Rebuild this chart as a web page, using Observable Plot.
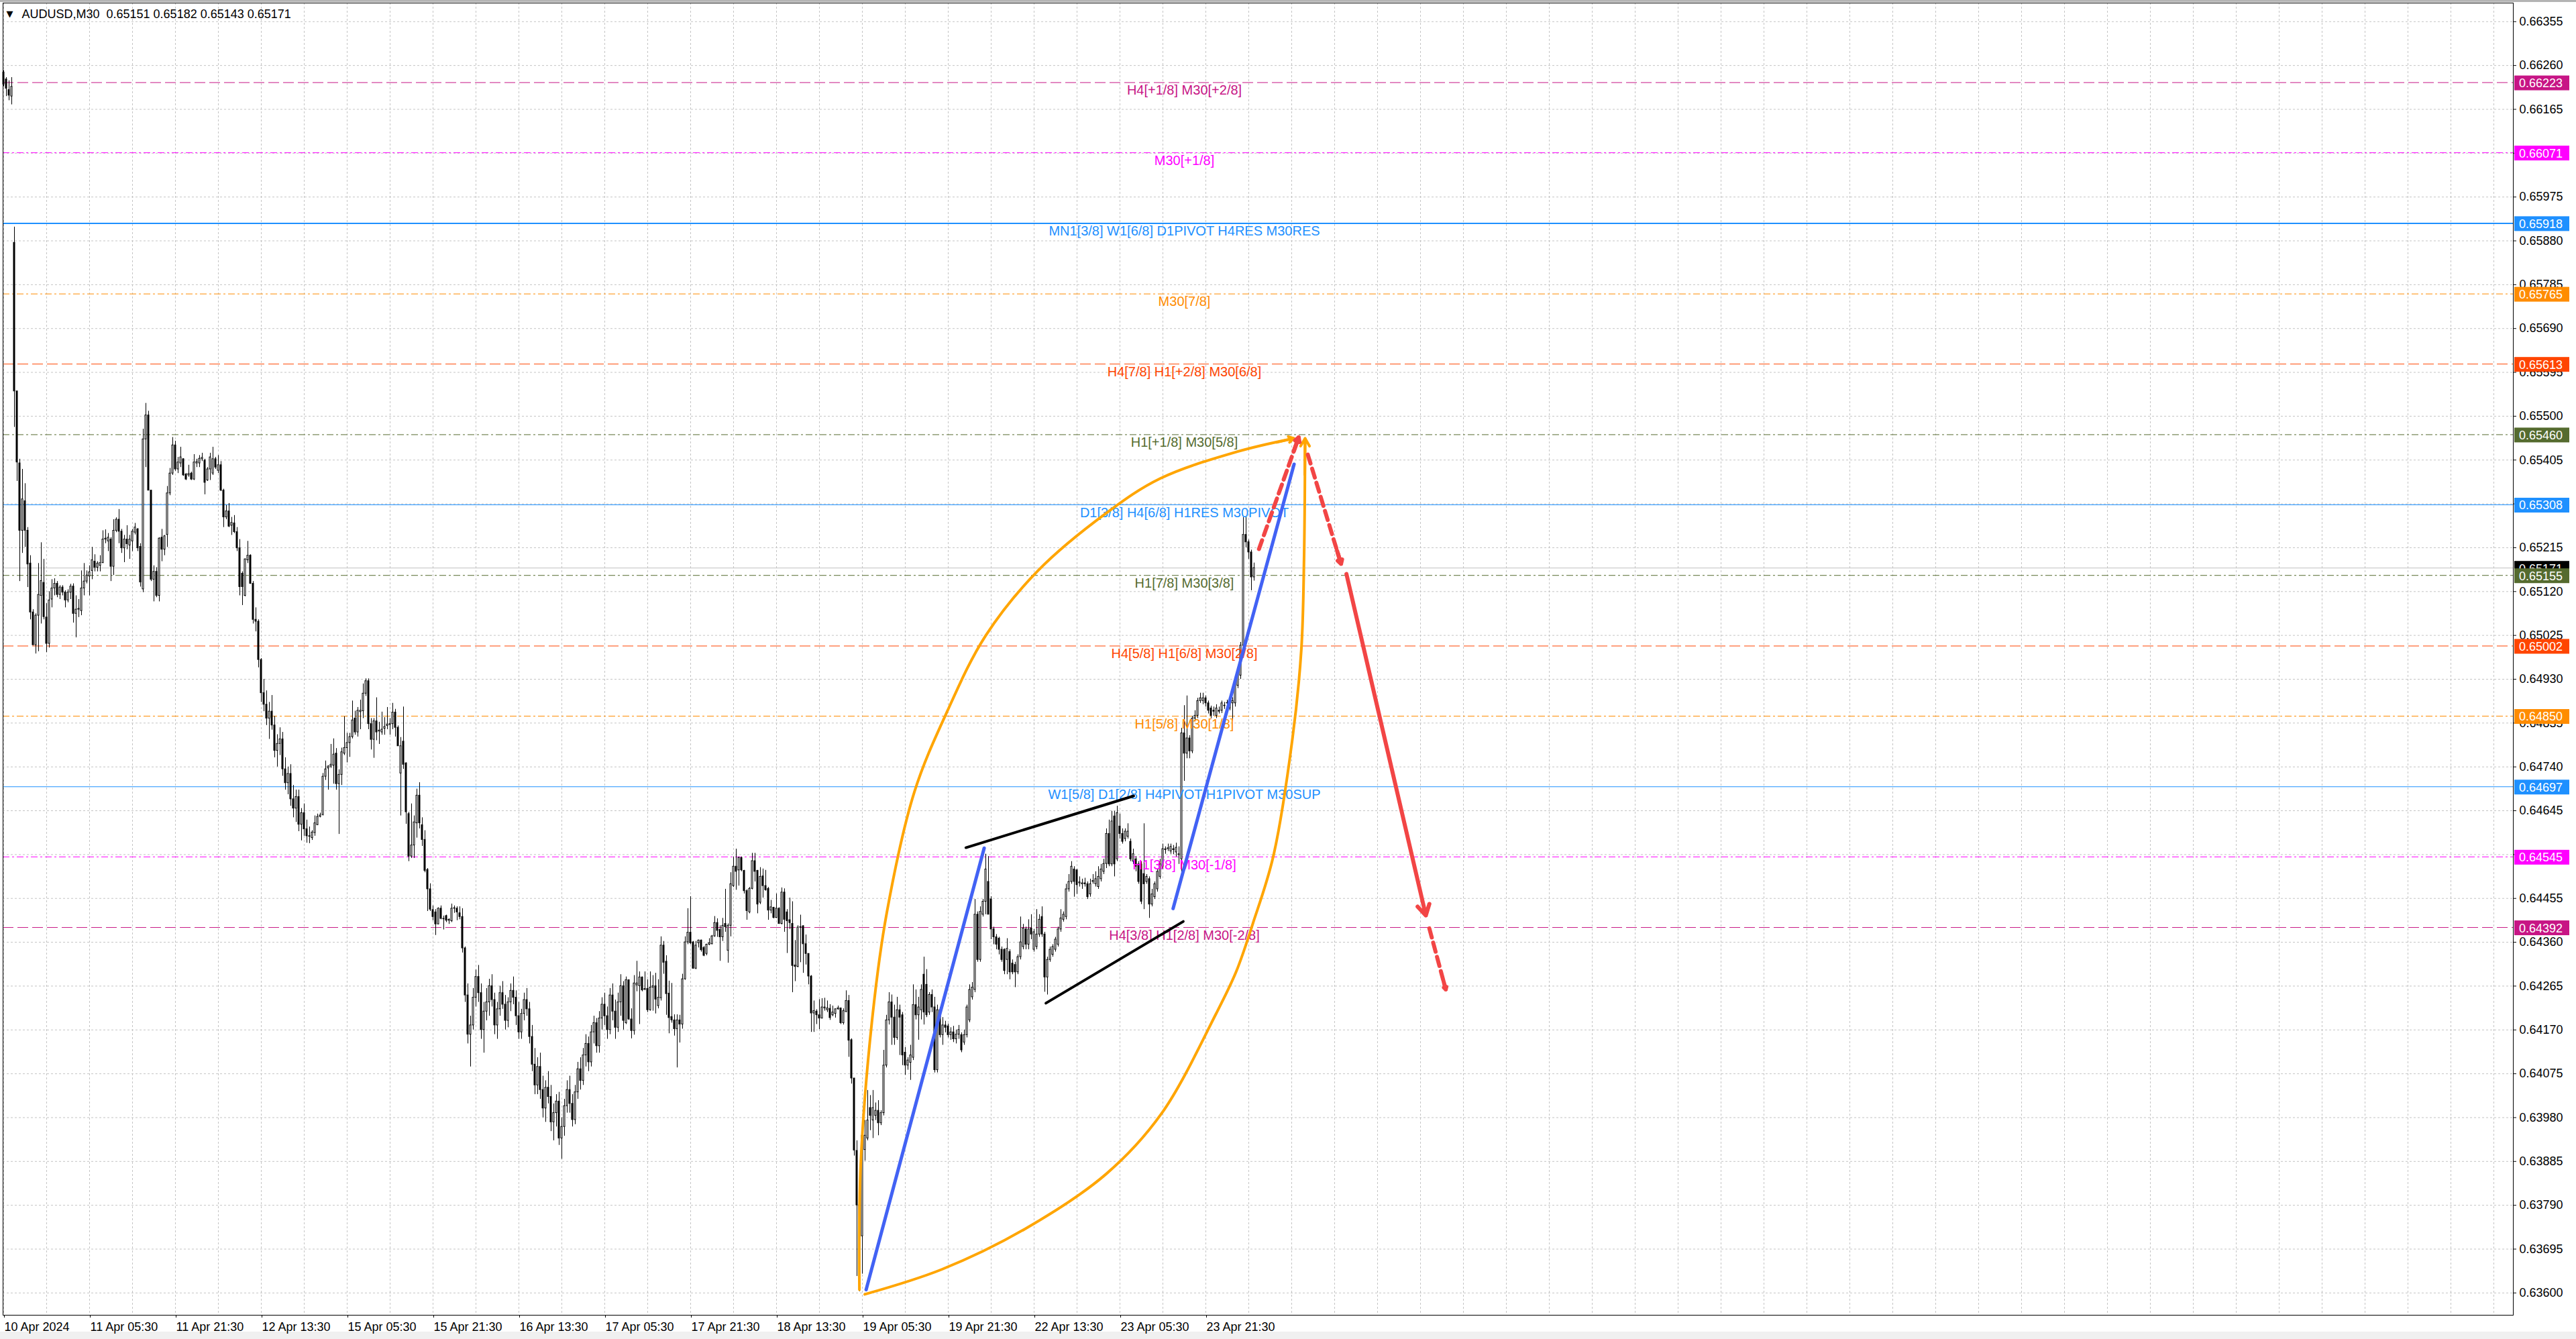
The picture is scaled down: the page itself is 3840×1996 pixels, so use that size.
<!DOCTYPE html>
<html><head><meta charset="utf-8">
<script src="https://cdn.jsdelivr.net/npm/d3@7"></script>
<script src="https://cdn.jsdelivr.net/npm/@observablehq/plot@0.6"></script>
<style>
html,body{margin:0;padding:0;background:#fff;}
#chart svg{display:block;}
</style></head><body><div id="chart"></div>
<script>
// ---- DATA (prices in points, 1 point = 0.00001) ----
const symbolName = "AUDUSD,M30";
const openPts = [
66245,66230,66207,66193,65876,65554,65398,65252,65316,65252,
65181,65075,65004,65068,65111,65139,65064,65007,65103,65127,
65137,65113,65129,65118,65101,65118,65131,65072,65081,65078,
65127,65142,65153,65165,65185,65172,65176,65182,65233,65229,
65233,65174,65252,65276,65250,65214,65233,65220,65229,65248,
65255,65217,65125,65450,65502,65339,65146,65163,65111,65237,
65211,65243,65333,65376,65437,65385,65398,65407,65374,65372,
65376,65363,65398,65398,65407,65404,65361,65385,65376,65407,
65382,65394,65339,65281,65294,65263,65268,65249,65214,65159,
65111,65188,65198,65137,65059,65055,64972,64900,64875,64845,
64860,64830,64775,64790,64800,64735,64705,64725,64670,64650,
64675,64615,64640,64605,64590,64586,64597,64614,64632,64636,
64719,64737,64741,64743,64769,64703,64723,64769,64781,64792,
64805,64845,64815,64859,64861,64899,64926,64833,64799,64839,
64817,64815,64823,64829,64831,64833,64858,64825,64726,64795,
64748,64638,64546,64570,64618,64678,64614,64582,64517,64475,
64430,64425,64399,64433,64411,64417,64407,64406,64433,64433,
64423,64415,64347,64245,64160,64180,64240,64285,64250,64170,
64210,64230,64265,64235,64180,64215,64250,64225,64190,64230,
64255,64240,64200,64165,64205,64235,64215,64155,64095,64050,
64090,64040,64000,64045,64025,63970,63990,64015,63935,63960,
64005,64040,64010,63975,64035,64085,64060,64115,64140,64100,
64165,64185,64135,64195,64225,64200,64170,64245,64210,64175,
64230,64265,64185,64278,64193,64168,64267,64265,64284,64257,
64259,64213,64262,64265,64222,64239,64353,64318,64249,64198,
64191,64172,64191,64182,64280,64360,64381,64360,64303,64358,
64364,64348,64335,64355,64356,64373,64402,64387,64371,64400,
64342,64396,64482,64524,64516,64543,64515,64471,64425,64476,
64536,64515,64446,64503,64482,64476,64429,64435,64413,64433,
64400,64468,64425,64408,64400,64310,64307,64392,64395,64356,
64335,64286,64206,64210,64202,64195,64217,64213,64216,64202,
64205,64215,64217,64185,64209,64233,64148,64065,63908,63790,
63723,63910,63935,64001,63974,63984,63995,63968,63990,64093,
64191,64230,64197,64153,64213,64202,64121,64093,64099,64110,
64224,64202,64213,64290,64268,64208,64246,64219,64083,64213,
64159,64180,64178,64159,64165,64150,64160,64159,64143,64159,
64191,64241,64257,64420,64322,64420,64448,64491,64453,64388,
64371,64368,64344,64344,64322,64339,64314,64311,64295,64328,
64350,64388,64355,64390,64344,64350,64377,64415,64377,64284,
64322,64333,64344,64355,64388,64409,64415,64475,64491,64518,
64516,64488,64486,64488,64486,64464,64491,64486,64480,64497,
64513,64530,64595,64529,64633,64540,64611,64595,64584,64589,
64578,64535,64540,64529,64529,64508,64491,64497,64442,64458,
64475,64502,64524,64560,64562,64557,64562,64555,64549,64540,
64813,64769,64802,64774,64845,64851,64883,64883,64889,64878,
64867,64862,64851,64862,64862,64872,64878,64867,64878,64878,
64916,64938,65003,65243,65227,65205,65151];
const highPts = [
66249,66234,66227,66234,65910,65554,65407,65385,65354,65259,
65198,65081,65072,65181,65226,65190,65094,65120,65146,65148,
65142,65133,65133,65122,65124,65136,65137,65111,65103,65165,
65181,65165,65176,65216,65200,65185,65198,65252,65254,65246,
65237,65276,65280,65298,65255,65242,65263,65242,65255,65268,
65257,65224,65472,65528,65511,65339,65176,65172,65237,65255,
65242,65348,65387,65454,65446,65411,65433,65408,65376,65394,
65379,65417,65407,65415,65420,65407,65389,65420,65433,65411,
65415,65402,65342,65307,65311,65281,65285,65259,65233,65163,
65191,65229,65200,65142,65085,65059,64975,64930,64905,64880,
64895,64850,64810,64825,64815,64760,64740,64745,64700,64690,
64690,64650,64660,64625,64610,64602,64634,64638,64640,64726,
64753,64743,64789,64801,64780,64734,64781,64849,64813,64813,
64883,64861,64869,64885,64920,64931,64931,64845,64845,64890,
64837,64859,64847,64869,64845,64878,64865,64829,64804,64870,
64749,64642,64660,64634,64692,64706,64630,64602,64520,64487,
64439,64431,64435,64439,64417,64419,64411,64443,64439,64437,
64437,64433,64350,64270,64200,64260,64300,64310,64270,64230,
64260,64280,64290,64250,64230,64265,64275,64245,64240,64270,
64285,64255,64230,64215,64250,64260,64230,64180,64130,64110,
64120,64070,64060,64080,64050,64010,64030,64035,63980,64020,
64060,64070,64030,64050,64100,64110,64130,64160,64155,64180,
64200,64195,64210,64240,64250,64220,64260,64270,64235,64250,
64290,64275,64285,64278,64216,64288,64319,64296,64285,64296,
64279,64296,64288,64293,64279,64372,64362,64331,64276,64271,
64203,64203,64202,64291,64372,64433,64459,64362,64362,64365,
64365,64351,64356,64368,64375,64416,64411,64396,64412,64475,
64400,64511,64545,64562,64545,64545,64516,64474,64479,64553,
64553,64516,64522,64519,64516,64479,64451,64436,64465,64435,
64478,64476,64431,64456,64448,64364,64396,64419,64396,64376,
64335,64288,64233,64214,64236,64238,64239,64233,64225,64222,
64216,64222,64217,64216,64255,64245,64151,64065,63930,63794,
63957,63974,64039,64028,64039,64012,64017,63995,64126,64202,
64251,64246,64224,64241,64224,64208,64132,64110,64137,64268,
64257,64241,64268,64328,64301,64251,64257,64241,64224,64219,
64197,64189,64183,64175,64178,64170,64180,64164,64170,64224,
64268,64273,64453,64426,64437,64453,64551,64546,64459,64393,
64377,64371,64350,64346,64368,64344,64322,64317,64333,64415,
64399,64393,64409,64420,64388,64431,64420,64437,64382,64328,
64350,64355,64371,64393,64431,64426,64486,64507,64535,64524,
64518,64502,64497,64499,64491,64497,64507,64513,64524,64529,
64540,64606,64625,64644,64644,64655,64638,64606,64606,64617,
64584,64562,64546,64535,64535,64617,64507,64502,64475,64491,
64518,64540,64573,64567,64573,64573,64570,64575,64567,64824,
64873,64894,64808,64850,64862,64889,64900,64900,64894,64883,
64872,64870,64875,64870,64883,64880,64885,64889,64890,64925,
64948,65010,65281,65281,65232,65210,65182];
const lowPts = [
66214,66193,66184,66175,65476,65359,65142,65203,65216,65129,
65059,65003,64985,64990,65050,65059,64988,64998,65085,65111,
65107,65103,65111,65085,65096,65103,65052,65020,65064,65068,
65111,65137,65111,65146,65163,65163,65163,65181,65224,65207,
65142,65155,65248,65224,65203,65183,65211,65190,65207,65243,
65207,65130,65118,65389,65339,65142,65098,65107,65098,65185,
65198,65216,65328,65372,65381,65376,65389,65370,65361,65368,
65361,65361,65389,65389,65402,65330,65359,65361,65372,65385,
65376,65337,65259,65276,65259,65242,65246,65207,65111,65090,
65109,65181,65136,65050,65033,64955,64880,64860,64830,64800,
64820,64760,64740,64765,64720,64690,64680,64655,64630,64620,
64600,64580,64590,64575,64574,64581,64590,64613,64630,64634,
64711,64690,64737,64703,64690,64594,64700,64765,64749,64761,
64801,64809,64805,64821,64845,64893,64821,64777,64759,64797,
64789,64809,64809,64821,64809,64821,64805,64785,64634,64735,
64616,64535,64542,64542,64586,64606,64568,64511,64427,64427,
64407,64375,64398,64409,64387,64403,64399,64403,64423,64407,
64409,64337,64230,64140,64090,64170,64220,64230,64150,64120,
64190,64200,64220,64160,64150,64200,64215,64170,64175,64210,
64225,64180,64150,64150,64190,64200,64140,64080,64030,64030,
64020,63980,63970,64010,63950,63930,63960,63920,63890,63940,
63990,63990,63960,63965,64020,64040,64050,64090,64080,64090,
64140,64120,64120,64170,64180,64150,64160,64190,64150,64165,
64200,64170,64182,64191,64151,64159,64253,64182,64253,64256,
64208,64211,64211,64205,64216,64233,64291,64202,64162,64185,
64157,64088,64142,64172,64278,64355,64355,64302,64301,64348,
64339,64329,64331,64353,64355,64371,64371,64319,64362,64382,
64315,64372,64479,64473,64482,64513,64465,64408,64422,64474,
64491,64422,64442,64456,64471,64408,64422,64411,64412,64399,
64398,64382,64336,64388,64251,64275,64305,64316,64293,64311,
64268,64165,64165,64182,64171,64194,64211,64208,64191,64199,
64196,64213,64182,64181,64208,64111,64053,63897,63636,63603,
63641,63886,63930,63952,63935,63974,63941,63963,63984,64088,
64181,64137,64137,64148,64115,64093,64072,64083,64061,64104,
64192,64148,64192,64181,64197,64202,64208,64077,64077,64153,
64137,64164,64153,64148,64143,64140,64150,64121,64137,64153,
64186,64235,64251,64317,64317,64415,64420,64420,64366,64355,
64344,64333,64317,64290,64290,64279,64290,64262,64290,64322,
64344,64344,64344,64366,64339,64344,64371,64371,64252,64246,
64317,64328,64339,64350,64382,64404,64409,64469,64486,64458,
64464,64480,64475,64480,64453,64458,64486,64480,64475,64491,
64507,64520,64524,64524,64502,64535,64584,64573,64578,64584,
64535,64529,64513,64486,64442,64431,64486,64412,64437,64453,
64469,64497,64518,64551,64557,64551,64550,64545,64529,64508,
64709,64758,64758,64769,64838,64845,64878,64875,64870,64855,
64845,64850,64845,64855,64856,64865,64870,64862,64840,64870,
64910,64930,64995,65215,65190,65122,65143];
const closePts = [
66219,66210,66195,66214,65554,65400,65252,65320,65252,65179,
65075,65004,65068,65113,65143,65065,65007,65101,65127,65137,
65113,65129,65118,65101,65118,65131,65072,65081,65083,65127,
65142,65155,65162,65188,65172,65181,65182,65233,65235,65237,
65174,65252,65276,65250,65214,65233,65223,65233,65250,65259,
65214,65140,65450,65502,65339,65146,65163,65111,65235,65211,
65240,65333,65376,65437,65385,65400,65411,65372,65363,65375,
65363,65400,65401,65408,65410,65356,65385,65411,65407,65389,
65394,65339,65281,65294,65261,65269,65249,65214,65130,65130,
65190,65198,65137,65059,65055,64972,64900,64875,64845,64860,
64830,64775,64790,64800,64735,64705,64725,64670,64650,64675,
64615,64640,64605,64590,64589,64598,64618,64632,64635,64719,
64735,64741,64745,64767,64703,64723,64772,64781,64792,64805,
64841,64815,64862,64862,64899,64926,64833,64799,64839,64815,
64819,64821,64827,64832,64833,64858,64825,64785,64785,64745,
64642,64546,64570,64620,64678,64618,64582,64515,64475,64431,
64415,64399,64433,64411,64410,64407,64409,64433,64434,64425,
64415,64347,64245,64160,64180,64240,64285,64250,64170,64210,
64230,64265,64235,64180,64215,64250,64225,64190,64230,64255,
64240,64200,64165,64205,64235,64215,64155,64095,64050,64090,
64040,64000,64045,64025,63970,63990,64015,63935,63960,64005,
64040,64010,63975,64035,64085,64060,64115,64140,64100,64165,
64185,64135,64195,64225,64200,64170,64245,64210,64175,64230,
64265,64190,64278,64193,64168,64271,64271,64284,64256,64259,
64213,64262,64265,64236,64240,64353,64316,64248,64196,64191,
64172,64191,64182,64280,64360,64381,64358,64303,64353,64364,
64343,64331,64355,64358,64373,64402,64385,64371,64396,64393,
64396,64486,64524,64513,64543,64516,64471,64428,64476,64536,
64513,64442,64502,64482,64473,64429,64436,64413,64433,64400,
64468,64409,64406,64402,64309,64307,64392,64393,64356,64335,
64286,64206,64211,64202,64195,64219,64219,64217,64196,64208,
64215,64217,64185,64211,64233,64147,64065,63909,63790,63723,
63941,63941,63974,63984,64001,63995,63968,63990,64093,64191,
64230,64197,64153,64213,64197,64115,64093,64104,64115,64224,
64202,64219,64257,64208,64202,64246,64219,64083,64213,64159,
64180,64175,64159,64165,64150,64160,64170,64126,64159,64219,
64257,64262,64420,64322,64426,64448,64518,64420,64388,64371,
64355,64344,64322,64298,64346,64295,64295,64295,64328,64360,
64390,64355,64388,64377,64382,64377,64409,64377,64284,64322,
64344,64350,64366,64388,64412,64420,64475,64491,64524,64491,
64484,64490,64488,64486,64458,64486,64493,64497,64502,64518,
64530,64595,64529,64622,64529,64640,64595,64578,64600,64600,
64540,64551,64524,64491,64448,64486,64502,64442,64464,64486,
64513,64529,64562,64562,64564,64567,64560,64565,64551,64813,
64769,64802,64774,64845,64851,64883,64889,64889,64878,64862,
64851,64860,64867,64860,64878,64873,64878,64883,64883,64922,
64943,65003,65243,65227,65205,65151,65171];

// time axis labels (one every 32 bars)
const timeLabels = ["10 Apr 2024","11 Apr 05:30","11 Apr 21:30","12 Apr 13:30","15 Apr 05:30",
  "15 Apr 21:30","16 Apr 13:30","17 Apr 05:30","17 Apr 21:30","18 Apr 13:30","19 Apr 05:30",
  "19 Apr 21:30","22 Apr 13:30","23 Apr 05:30","23 Apr 21:30"];
const barsPerTimeLabel = 32;
const barsPerGridLine = 16;

// price axis tick labels
const priceTickLabels = ["0.63600","0.63695","0.63790","0.63885","0.63980","0.64075","0.64170",
  "0.64265","0.64360","0.64455","0.64550","0.64645","0.64740","0.64835","0.64930","0.65025",
  "0.65120","0.65215","0.65310","0.65405","0.65500","0.65595","0.65690","0.65785","0.65880",
  "0.65975","0.66070","0.66165","0.66260","0.66355"];

// Murrey / pivot levels
const levelPrices = [0.66223,0.66071,0.65918,0.65765,0.65613,0.65460,0.65308,0.65155,0.65002,0.64850,0.64697,0.64545,0.64392];
const levelLabels = ["H4[+1/8] M30[+2/8]","M30[+1/8]","MN1[3/8] W1[6/8] D1PIVOT H4RES M30RES","M30[7/8]",
  "H4[7/8] H1[+2/8] M30[6/8]","H1[+1/8] M30[5/8]","D1[3/8] H4[6/8] H1RES M30PIVOT","H1[7/8] M30[3/8]",
  "H4[5/8] H1[6/8] M30[2/8]","H1[5/8] M30[1/8]","W1[5/8] D1[2/8] H4PIVOT H1PIVOT M30SUP","H1[3/8] M30[-1/8]",
  "H4[3/8] H1[2/8] M30[-2/8]"];
const levelKinds = ["ext","outer","major","seven","six","five","pivot","three","two","one","major2","minus1","ext"];
const levelLabelBar = 440;

// hand-drawn objects: [bar index, price in points]
const arcUpper = [[318.9,63607],[319.4,63880],[323.9,64206],[329.1,64424],[339.4,64686],[351.6,64860],
  [365.9,65024],[385.4,65165],[410.9,65290],[431,65365],[459.6,65423],[480.8,65452]];
const arcLower = [[320.9,63597],[349.6,63651],[380.4,63738],[410.9,63858],[431.4,63988],[451.9,64206],
  [459.3,64296],[465.5,64400],[473.1,64545],[480.3,64802],[483.6,64995],[484.6,65190],[485,65452]];
const blueLine1 = [[321.4,63607],[365.4,64564]];
const blueLine2 = [[435.8,64433],[480.9,65396]];
const blackUpper = [[358.6,64565],[421.1,64677]];
const blackLower = [[388.4,64228],[439.6,64405]];
const redDashUp = [[467.8,65212],[482.6,65454]];
const redDashDown = [[486,65417],[498.4,65180]];
const redSolid = [[500.4,65158],[530,64418]];
const redDashEnd = [[531.3,64390],[537.4,64258]];

// ---- STYLE ----
const PT = 1e-5;
const W = 3840, H = 1996;
const mL = 4, mR = 94, mT = 4, mB = 36;
const uiFont = "'Liberation Sans', Arial, sans-serif";
const levelStyle = {
  ext:    {color:"#C71585", dash:"16,6", w:1},
  outer:  {color:"#FF00FF", dash:"10,4,3,4", w:1},
  major:  {color:"#1E90FF", dash:null, w:2},
  seven:  {color:"#FF8C00", dash:"10,4,3,4", w:1},
  six:    {color:"#FF4500", dash:"16,6", w:1},
  five:   {color:"#556B2F", dash:"10,4,3,4", w:1},
  pivot:  {color:"#1E90FF", dash:null, w:1},
  three:  {color:"#556B2F", dash:"10,4,3,4", w:1},
  two:    {color:"#FF4500", dash:"16,6", w:1},
  one:    {color:"#FF8C00", dash:"10,4,3,4", w:1},
  major2: {color:"#1E90FF", dash:null, w:1},
  minus1: {color:"#FF00FF", dash:"10,4,3,4", w:1},
};
const ORANGE = "#FFA500", BLUE = "#4262F4", RED = "#F24545";

// ---- BUILD ----
const candles = openPts.map((o, i) => {
  const c = closePts[i];
  return {i, o: o*PT, c: c*PT, h: Math.max(highPts[i], o, c)*PT, l: Math.min(lowPts[i], o, c)*PT};
});
const last = candles[candles.length - 1];
const fmt = d3.format(".5f");
const priceTicks = priceTickLabels.map(Number);
const labelBars = timeLabels.map((_, k) => k * barsPerTimeLabel);
const gridBars = d3.range(0, 936, barsPerGridLine);
const levels = levelPrices.map((p, k) => ({p, label: levelLabels[k], ...levelStyle[levelKinds[k]]}));
const toPts = seg => seg.map(([b, p]) => ({b, p: p*PT}));
function head(seg, frac) {
  const a = seg[seg.length-2], b = seg[seg.length-1];
  return [{x1: b[0] - (b[0]-a[0])*frac, y1: (b[1] - (b[1]-a[1])*frac)*PT, x2: b[0], y2: b[1]*PT}];
}
const seg2 = seg => [{x1: seg[0][0], y1: seg[0][1]*PT, x2: seg[1][0], y2: seg[1][1]*PT}];

const marks = [
  Plot.ruleY(priceTicks, {stroke:"#c4c4c4", strokeDasharray:"3,3"}),
  Plot.ruleX(gridBars, {stroke:"#c4c4c4", strokeDasharray:"3,3"}),
];
for (const L of levels) {
  marks.push(Plot.ruleY([L.p], {stroke: L.color, strokeWidth: L.w, ...(L.dash ? {strokeDasharray: L.dash} : {})}));
}
marks.push(Plot.ruleY([last.c], {stroke:"#c0c0c0"}));
// candles
marks.push(Plot.ruleX(candles, {x:"i", y1:"l", y2:"h", stroke:"#000", strokeWidth:1}));
marks.push(Plot.rect(candles, {
  x1: d => d.i - 0.25, x2: d => d.i + 0.25,
  y1: "o", y2: d => (d.c === d.o ? d.c + 0.6*PT : d.c),
  fill: d => d.c < d.o ? "#000" : "#fff", stroke:"#000", strokeWidth:1
}));
// level labels
for (const L of levels) {
  marks.push(Plot.text([L], {x: () => levelLabelBar, y: "p", text: "label", fill: L.color,
    fontSize: 20, fontFamily: uiFont, textAnchor:"middle", lineAnchor:"top", dy: 4}));
}
// drawings
marks.push(Plot.line(toPts(arcUpper), {x:"b", y:"p", curve:"catmull-rom", stroke: ORANGE, strokeWidth: 4}));
marks.push(Plot.line(toPts(arcLower), {x:"b", y:"p", curve:"catmull-rom", stroke: ORANGE, strokeWidth: 4}));
marks.push(Plot.arrow(head(arcUpper, 0.3), {x1:"x1", y1:"y1", x2:"x2", y2:"y2", stroke: ORANGE, strokeWidth: 4, headLength: 5}));
marks.push(Plot.arrow(head(arcLower, 0.3), {x1:"x1", y1:"y1", x2:"x2", y2:"y2", stroke: ORANGE, strokeWidth: 4, headLength: 5}));
for (const s of [blueLine1, blueLine2]) {
  marks.push(Plot.line(toPts(s), {x:"b", y:"p", stroke: BLUE, strokeWidth: 5, strokeLinecap:"round"}));
}
for (const s of [blackUpper, blackLower]) {
  marks.push(Plot.line(toPts(s), {x:"b", y:"p", stroke: "#000", strokeWidth: 4}));
}
for (const s of [redDashUp, redDashDown, redDashEnd]) {
  marks.push(Plot.line(toPts(s), {x:"b", y:"p", stroke: RED, strokeWidth: 6, strokeDasharray:"14,8"}));
  marks.push(Plot.arrow(head(s, 0.12), {x1:"x1", y1:"y1", x2:"x2", y2:"y2", stroke: RED, strokeWidth: 6, headLength: 4}));
}
marks.push(Plot.arrow(seg2(redSolid), {x1:"x1", y1:"y1", x2:"x2", y2:"y2", stroke: RED, strokeWidth: 6, headLength: 4.5}));
// header
marks.push(Plot.text(["\u25BC"], {frameAnchor:"top-left", dx: 5, dy: 11, fontSize: 13, fill:"#000",
  textAnchor:"start", lineAnchor:"top", fontFamily:"'DejaVu Sans', sans-serif"}));
marks.push(Plot.text([`${symbolName}\u00a0\u00a0${fmt(candles[candles.length-1].o)} ${fmt(last.h)} ${fmt(last.l)} ${fmt(last.c)}`],
  {frameAnchor:"top-left", dx: 28, dy: 10, fontSize: 18, fill:"#000", textAnchor:"start", lineAnchor:"top", fontFamily: uiFont}));
// axes
marks.push(Plot.axisY(priceTicks, {anchor:"right", tickSize: 4, tickPadding: 5, tickFormat: fmt,
  fontSize: 18, fontFamily: uiFont, label: null}));
marks.push(Plot.axisX(labelBars, {anchor:"bottom", tickSize: 4, tickPadding: 7,
  tickFormat: d => timeLabels[Math.round(d / barsPerTimeLabel)], textAnchor:"start", dx: 1,
  fontSize: 18, fontFamily: uiFont, label: null}));
marks.push(Plot.frame({stroke:"#000"}));

const chart = Plot.plot({
  width: W, height: H,
  marginLeft: mL, marginRight: mR, marginTop: mT, marginBottom: mB,
  x: {type:"linear", domain: [-0.25, 935.25]},
  y: {type:"linear", domain: [0.635518, 0.663954]},
  style: {background: "linear-gradient(to bottom, #b4b4b4 0px, #b4b4b4 3px, #ffffff 3px, #ffffff 1985px, #f0f0f0 1985px)",
    fontFamily: uiFont, color:"#000", overflow:"visible"},
  marks
});
document.getElementById("chart").appendChild(chart);

// price tags on the right axis, placed with the plot's own y scale
const sy = chart.scale("y");
const svg = d3.select(chart);
const axisX0 = W - mR;
const tags = [{p: last.c, color: "#000"}].concat(levels.map(L => ({p: L.p, color: L.color})));
const g = svg.append("g").attr("text-anchor", "start");
for (const t of tags) {
  const y = sy.apply(t.p) + 1;
  g.append("rect").attr("x", axisX0 + 2).attr("y", y - 11).attr("width", 82).attr("height", 22).attr("fill", t.color);
  g.append("text").attr("x", axisX0 + 9).attr("y", y).attr("dy", "0.36em").attr("fill", "#fff")
    .attr("text-anchor", "start")
    .style("font-family", uiFont).style("font-size", "18px").text(fmt(t.p));
}
</script></body></html>
